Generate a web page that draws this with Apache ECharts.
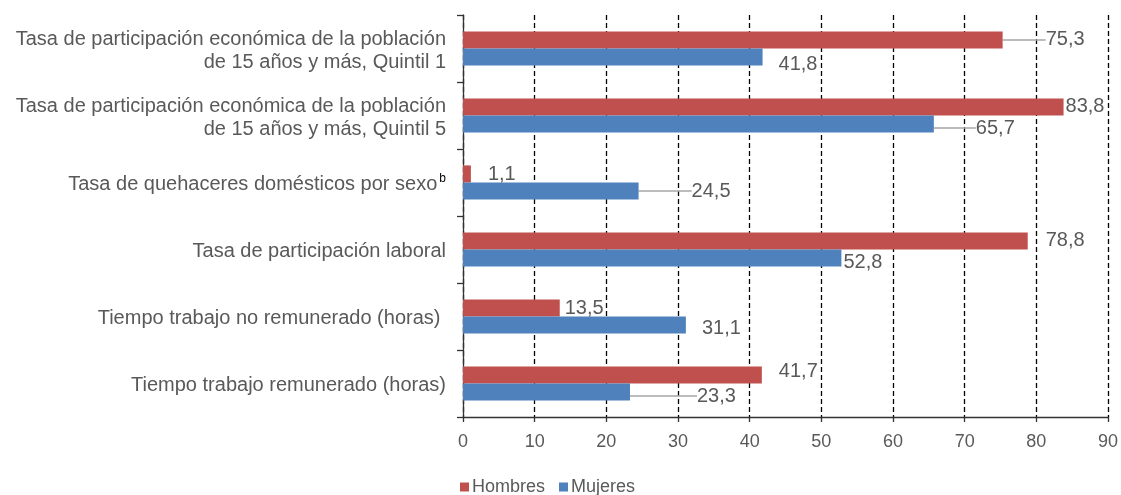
<!DOCTYPE html>
<html>
<head>
<meta charset="utf-8">
<script src="https://cdn.jsdelivr.net/npm/echarts@6/dist/echarts.min.js"></script>
<style>
  html, body { margin: 0; padding: 0; background: #fff; }
  #chart { width: 1121px; height: 495px; }
</style>
</head>
<body>
<div id="chart"></div>
<script>
const categories = [
  "Tasa de participación económica de la población\nde 15 años y más, Quintil 1",
  "Tasa de participación económica de la población\nde 15 años y más, Quintil 5",
  "Tasa de quehaceres domésticos por sexo{sup|b}",
  "Tasa de participación laboral",
  "Tiempo trabajo no remunerado (horas) ",
  "Tiempo trabajo remunerado (horas)"
];
const hombres = [75.3, 83.8, 1.1, 78.8, 13.5, 41.7];
const mujeres = [41.8, 65.7, 24.5, 52.8, 31.1, 23.3];
const xTicks = [0, 10, 20, 30, 40, 50, 60, 70, 80, 90];

// label shifts (dx, dy) away from the default "right" spot, as in the original
const labelShift = [
  [[38, 0], [-3, 0], [12, 1], [13, 0], [0, 1], [12, -3]],
  [[11, 7], [37, 4], [48, 0], [-3, 4], [11, 3], [62, 4]]
];
const withLeader = [[0], [1, 2, 5]];

const textColor = "#595959";
const font = "'Liberation Sans', Arial, sans-serif";

function makeData(values, s) {
  return values.map((v, i) => ({
    value: v,
    labelLine: { show: withLeader[s].indexOf(i) >= 0 }
  }));
}

const chart = echarts.init(document.getElementById("chart"));

const labelOpt = {
  show: true,
  position: "right",
  distance: 5,
  color: textColor,
  fontFamily: font,
  fontSize: 20,
  formatter: p => String(p.value).replace(".", ",")
};

const labelLineOpt = {
  show: false,
  lineStyle: { color: "#a6a6a6", width: 1.5 }
};

const option = {
  animation: false,
  grid: { left: 463, right: 11, top: 15, bottom: 78 },
  legend: {
    left: 455,
    top: 473,
    itemWidth: 9,
    itemHeight: 9,
    itemGap: 14,
    icon: "rect",
    textStyle: { color: textColor, fontFamily: font, fontSize: 18, padding: [0, 0, 0, -2] },
    data: ["Hombres", "Mujeres"]
  },
  xAxis: {
    type: "value",
    min: 0,
    max: 90,
    interval: 10,
    axisLine: { show: true, lineStyle: { color: "#333", width: 1.3 } },
    axisTick: { show: true, length: 5, lineStyle: { color: "#333", width: 1.3 } },
    axisLabel: {
      color: textColor,
      fontFamily: font,
      fontSize: 18,
      margin: 16,
      formatter: v => (xTicks.indexOf(v) >= 0 ? String(v) : "")
    },
    splitLine: {
      show: true,
      lineStyle: { color: "#000", type: [5, 3], width: 1.3 }
    }
  },
  yAxis: {
    type: "category",
    inverse: true,
    data: categories,
    axisLine: { show: true, lineStyle: { color: "#333", width: 1.3 } },
    axisTick: { show: true, length: 6, lineStyle: { color: "#333", width: 1.3 } },
    axisLabel: {
      color: textColor,
      fontFamily: font,
      fontSize: 20,
      lineHeight: 23,
      margin: 17,
      align: "right",
      padding: [4, 0, 0, 0],
      rich: {
        sup: { fontSize: 12, color: "#000", verticalAlign: "top", padding: [0, 0, 14, 2], fontFamily: font }
      }
    }
  },
  series: [
    {
      name: "Hombres",
      type: "bar",
      data: makeData(hombres, 0),
      itemStyle: { color: "#c0504d" },
      barGap: "0%",
      barCategoryGap: "49%",
      label: labelOpt,
      labelLine: labelLineOpt,
      labelLayout: p => ({ dx: labelShift[0][p.dataIndex][0], dy: labelShift[0][p.dataIndex][1] })
    },
    {
      name: "Mujeres",
      type: "bar",
      data: makeData(mujeres, 1),
      itemStyle: { color: "#4f81bd" },
      barGap: "0%",
      barCategoryGap: "49%",
      label: labelOpt,
      labelLine: labelLineOpt,
      labelLayout: p => ({ dx: labelShift[1][p.dataIndex][0], dy: labelShift[1][p.dataIndex][1] })
    }
  ]
};

chart.setOption(option);
</script>
</body>
</html>
